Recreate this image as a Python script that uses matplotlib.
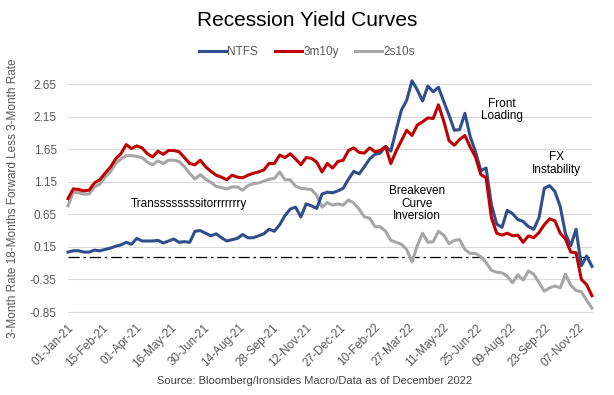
import matplotlib
matplotlib.use("Agg")
import matplotlib.pyplot as plt
import matplotlib.dates as mdates
import numpy as np
import pandas as pd

plt.rcParams['font.family'] = ['Liberation Sans', 'DejaVu Sans']

# weekly observations, 01-Jan-21 .. 25-Nov-22
dates = pd.date_range("2021-01-01", periods=100, freq="7D")

ntfs = [0.07, 0.09, 0.09, 0.07, 0.07, 0.10, 0.09, 0.11, 0.13, 0.16,
        0.18, 0.22, 0.19, 0.28, 0.24, 0.24, 0.24, 0.25, 0.21, 0.24,
        0.27, 0.22, 0.23, 0.22, 0.39, 0.40, 0.36, 0.32, 0.35, 0.29,
        0.24, 0.26, 0.28, 0.34, 0.29, 0.29, 0.32, 0.35, 0.42, 0.39,
        0.49, 0.63, 0.73, 0.76, 0.61, 0.81, 0.78, 0.74, 0.96, 0.99,
        0.98, 1.01, 1.05, 1.19, 1.31, 1.27, 1.38, 1.50, 1.57, 1.59,
        1.69, 1.62, 1.94, 2.25, 2.40, 2.70, 2.56, 2.39, 2.62, 2.53,
        2.60, 2.38, 2.17, 1.94, 1.95, 2.20, 1.84, 1.61, 1.32, 1.36,
        0.80, 0.50, 0.45, 0.71, 0.66, 0.57, 0.54, 0.46, 0.42, 0.60,
        1.05, 1.09, 1.00, 0.77, 0.35, 0.17, 0.42, -0.14, 0.01, -0.15]

m3y10 = [0.89, 1.04, 1.03, 1.01, 1.02, 1.13, 1.18, 1.28, 1.37, 1.50,
         1.58, 1.72, 1.66, 1.70, 1.67, 1.58, 1.53, 1.62, 1.57, 1.63,
         1.63, 1.61, 1.52, 1.43, 1.41, 1.48, 1.38, 1.31, 1.25, 1.22,
         1.18, 1.25, 1.22, 1.21, 1.25, 1.28, 1.30, 1.33, 1.43, 1.43,
         1.56, 1.52, 1.58, 1.50, 1.41, 1.52, 1.51, 1.45, 1.30, 1.43,
         1.36, 1.46, 1.48, 1.63, 1.67, 1.60, 1.59, 1.67, 1.61, 1.63,
         1.69, 1.43, 1.62, 1.78, 1.94, 1.86, 2.02, 2.07, 2.13, 2.12,
         2.33, 2.08, 1.78, 1.71, 1.80, 1.86, 1.68, 1.53, 1.26, 1.21,
         0.60, 0.36, 0.33, 0.36, 0.32, 0.33, 0.22, 0.32, 0.29, 0.37,
         0.49, 0.58, 0.55, 0.36, 0.27, 0.07, 0.06, -0.35, -0.43, -0.60]

s2s10 = [0.78, 0.99, 0.98, 0.96, 0.96, 1.07, 1.11, 1.22, 1.30, 1.43,
         1.50, 1.55, 1.55, 1.54, 1.52, 1.45, 1.41, 1.47, 1.43, 1.48,
         1.48, 1.46, 1.38, 1.28, 1.19, 1.26, 1.19, 1.14, 1.08, 1.06,
         1.04, 1.07, 1.07, 1.02, 1.09, 1.12, 1.13, 1.16, 1.19, 1.20,
         1.30, 1.18, 1.18, 1.08, 1.05, 1.04, 1.03, 0.94, 0.76, 0.83,
         0.79, 0.81, 0.79, 0.87, 0.82, 0.73, 0.61, 0.59, 0.46, 0.46,
         0.39, 0.25, 0.22, 0.19, 0.11, -0.08, 0.17, 0.36, 0.22, 0.23,
         0.39, 0.33, 0.20, 0.25, 0.26, 0.11, 0.05, 0.05, 0.00, -0.09,
         -0.21, -0.24, -0.25, -0.30, -0.40, -0.28, -0.36, -0.22, -0.27, -0.40,
         -0.53, -0.48, -0.45, -0.48, -0.27, -0.44, -0.52, -0.54, -0.67, -0.79]

yticks = [-0.85, -0.35, 0.15, 0.65, 1.15, 1.65, 2.15, 2.65]
xticks = pd.date_range("2021-01-01", "2022-11-30", freq="45D")

fig = plt.figure(figsize=(6.14, 3.95), dpi=100)
ax = fig.add_axes([0.1107, 0.2101, 0.8534, 0.5772])

ax.plot(dates, ntfs, color='#2F4E8C', lw=2.2, label='NTFS', clip_on=False, zorder=3)
ax.plot(dates, m3y10, color='#C00000', lw=2.2, label='3m10y', clip_on=False, zorder=3)
ax.plot(dates, s2s10, color='#A6A6A6', lw=2.2, label='2s10s', clip_on=False, zorder=2)
ax.axhline(0, color='black', lw=0.9, dashes=(9, 3, 2, 3), zorder=1)

ax.set_xlim(dates[0], dates[-1])
ax.set_ylim(-0.85, 2.65)
ax.set_yticks(yticks)
ax.set_yticklabels([f"{v:.2f}" for v in yticks])
ax.set_xticks(xticks)
ax.xaxis.set_major_formatter(mdates.DateFormatter("%d-%b-%y"))
plt.setp(ax.get_xticklabels(), rotation=45, ha='right', va='top', rotation_mode='anchor')
ax.tick_params(axis='both', length=0, labelsize=8.5, colors='#595959')
ax.tick_params(axis='x', pad=7)
ax.tick_params(axis='y', pad=8)
ax.grid(axis='y', color='#D9D9D9', lw=0.8)
ax.set_axisbelow(True)
for s in ['top', 'right', 'left']:
    ax.spines[s].set_visible(False)
ax.spines['bottom'].set_color('#D9D9D9')
ax.spines['bottom'].set_linewidth(0.8)

ax.set_ylabel("3-Month Rate 18-Months Forward Less 3-Month Rate", fontsize=8.5,
              color='#595959', labelpad=8)

# annotations
ytr = ax.get_yaxis_transform()
ax.text(0.231, 0.81, "Transsssssssitorrrrrrry", transform=ytr,
        ha='center', va='center', fontsize=8.5)
ax.text(0.666, 0.81, "Breakeven\nCurve\nInversion", transform=ytr,
        ha='center', va='center', multialignment='center', fontsize=8.5, linespacing=1.05)
ax.text(0.828, 2.25, "Front\nLoading", transform=ytr,
        ha='center', va='center', multialignment='center', fontsize=8.5, linespacing=1.05)
ax.text(0.933, 1.43, "FX\nInstability", transform=ytr,
        ha='center', va='center', multialignment='center', fontsize=8.5, linespacing=1.05)

fig.text(0.5, 0.948, "Recession Yield Curves", ha='center', va='center', fontsize=15)
fig.legend(loc='center', bbox_to_anchor=(0.5, 0.868), ncol=3, frameon=False,
           fontsize=8.5, labelcolor='#595959', handlelength=2.3, handletextpad=0.1,
           columnspacing=1.4)
fig.text(0.513, 0.035, "Source: Bloomberg/Ironsides Macro/Data as of December 2022",
         ha='center', va='center', fontsize=8, color='#404040')

fig.savefig("out.png", dpi=100)
